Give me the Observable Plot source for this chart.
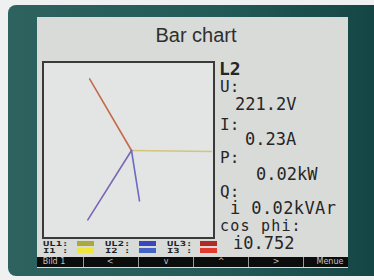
<!DOCTYPE html>
<html>
<head>
<meta charset="utf-8">
<script src="https://cdn.jsdelivr.net/npm/d3@7"></script>
<script src="https://cdn.jsdelivr.net/npm/@observablehq/plot@0.6"></script>
<style>
  html, body { margin: 0; padding: 0; }
  body { width: 374px; height: 280px; position: relative; overflow: hidden; background: #eef1f0; }
  .abs { position: absolute; }
  .t { position: absolute; line-height: 0; white-space: pre; }
</style>
</head>
<body>
<script>
// ---- data ----
const title = "Bar chart";
const phase = "L2";
const phasorNames = ["UL1", "UL2", "UL3", "I2"];
const phasorMagnitudes = [80, 82, 83, 51];          // relative lengths
const phasorAngles = [-0.7, 237.8, 120.3, 279];      // degrees, counter-clockwise from +x
const readingLabels = ["U:", "I:", "P:", "Q:", "cos phi:"];
const readingValues = ["221.2V", "0.23A", "0.02kW", "i 0.02kVAr", "i0.752"];
const legendVoltages = ["UL1:", "UL2:", "UL3:"];
const legendCurrents = ["I1 :", "I2 :", "I3 :"];
const softkeys = ["Bild 1", "<", "v", "^", ">", "Menue"];

// ---- styles ----
const phasorColors = {UL1: "#d4c47c", UL2: "#7b66b4", UL3: "#c46a4c", I2: "#6b6bc6"};
const voltageSwatch = ["#a9a93c", "#3c46bc", "#b02a26"];
const currentSwatch = ["#eee63a", "#4563c4", "#e43a2e"];

const body = document.body;
function box(x, y, w, h, css) {
  const d = document.createElement("div");
  d.className = "abs";
  Object.assign(d.style, {left: x + "px", top: y + "px", width: w + "px", height: h + "px"}, css || {});
  body.appendChild(d);
  return d;
}
function text(str, x, baseline, size, css) {
  const d = document.createElement("div");
  d.className = "t";
  d.textContent = str;
  Object.assign(d.style, {left: x + "px", top: (baseline - 0.35 * size) + "px", fontSize: size + "px"}, css || {});
  body.appendChild(d);
  return d;
}

// device frame and screen
box(8, 5, 380, 271, {borderRadius: "8px", background: "linear-gradient(to right, #2d625f 0%, #235a57 55%, #134443 100%)"});
box(37, 17, 311, 251, {background: "#d9dbd9"});

// title
text(title, 0, 42, 20, {fontFamily: "'Liberation Sans', Arial, sans-serif", color: "#2f2f2f", width: "392px", textAlign: "center"});

// phasor diagram
const phasors = phasorNames.map((name, i) => {
  const a = phasorAngles[i] * Math.PI / 180;
  return {name, x2: phasorMagnitudes[i] * Math.cos(a), y2: phasorMagnitudes[i] * Math.sin(a)};
});
const holder = box(42, 61, 169, 174, {border: "2px solid #3b3a3a", background: "#e3e5e4"});
const plot = Plot.plot({
  width: 169, height: 174,
  margin: 0,
  x: {domain: [-87, 82], axis: null},
  y: {domain: [-87, 87], axis: null},
  color: {type: "identity"},
  style: {background: "transparent"},
  marks: [
    Plot.link(phasors, {x1: 0, y1: 0, x2: "x2", y2: "y2", stroke: d => phasorColors[d.name], strokeWidth: 1.6, strokeLinecap: "round"})
  ]
});
holder.appendChild(plot);

// readings
const mono = {fontFamily: "'DejaVu Sans Mono', monospace", color: "#262626"};
text(phase, 219, 75, 18, Object.assign({fontWeight: "bold"}, mono));
const labelBase = [93, 131, 164, 197.5, 231];
const valueBase = [110, 145, 180, 213.5, 248.5];
const valueX = [235, 245, 256, 230, 233];
const valueSize = [17, 17, 17, 17, 17];
readingLabels.forEach((l, i) => text(l, 220, labelBase[i], i === 4 ? 15 : 16, i === 4 ? Object.assign({letterSpacing: "1.2px"}, mono) : mono));
readingValues.forEach((v, i) => text(v, valueX[i], valueBase[i], valueSize[i], i === 3 ? Object.assign({letterSpacing: "0.4px"}, mono) : mono));

// legend
const legX = [43, 105, 167];
const swX = [77, 139, 200];
const small = {fontFamily: "'DejaVu Sans Mono', monospace", fontWeight: "bold", color: "#1e1e1e", transform: "scale(1.5,1)", transformOrigin: "0 0"};
legendVoltages.forEach((l, i) => {
  text(l, legX[i], 246.5, 7, small);
  text(legendCurrents[i], legX[i], 253.5, 7, small);
  box(swX[i], 241, 17, 5, {background: voltageSwatch[i]});
  box(swX[i], 248, 17, 5, {background: currentSwatch[i]});
});

// softkey bar
box(37, 257, 311, 10, {background: "#0c0c0c"});
const sep = [83, 138, 193, 248, 303];
sep.forEach(x => box(x, 257, 1, 10, {background: "#9a9a9a"}));
const keyStyle = {fontFamily: "'DejaVu Sans', sans-serif", color: "#c4c4c4"};
const keyCenters = [54, 110, 166, 221, 276, 330];
softkeys.forEach((k, i) => {
  const d = text(k, keyCenters[i] - 20, 265, 8, keyStyle);
  d.style.width = "40px"; d.style.textAlign = "center";
});
</script>
</body>
</html>
